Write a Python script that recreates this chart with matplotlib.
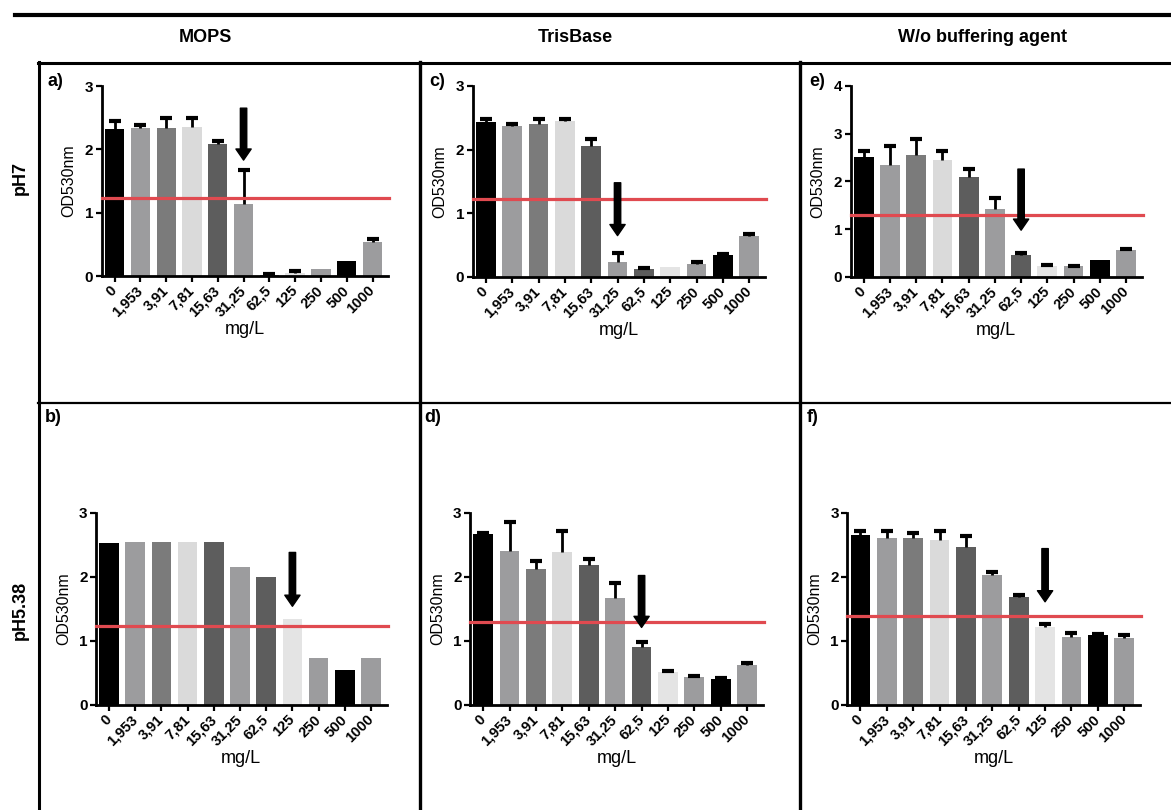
import matplotlib
matplotlib.use('Agg')
import matplotlib.pyplot as plt
from matplotlib.lines import Line2D
import numpy as np

plt.rcParams['font.family'] = ['Liberation Sans', 'DejaVu Sans']

W, H = 1171, 810

conc = ['0', '1,953', '3,91', '7,81', '15,63', '31,25', '62,5', '125', '250', '500', '1000']
bar_colors = ['#000000', '#9c9c9e', '#7b7b7b', '#dadada', '#5d5d5d', '#9c9c9e',
              '#5d5d5d', '#e4e4e4', '#9c9c9e', '#000000', '#9c9c9e']

# OD530nm means and upper SD, pH 7
mops_ph7 = [2.32, 2.33, 2.34, 2.35, 2.08, 1.13, 0.02, 0.04, 0.11, 0.24, 0.53]
mops_ph7_err = [0.13, 0.05, 0.15, 0.14, 0.05, 0.54, 0.01, 0.04, 0.0, 0.0, 0.05]
tris_ph7 = [2.44, 2.37, 2.41, 2.45, 2.05, 0.24, 0.12, 0.16, 0.21, 0.35, 0.64]
tris_ph7_err = [0.04, 0.03, 0.07, 0.03, 0.11, 0.14, 0.02, 0.0, 0.03, 0.01, 0.04]
nobuf_ph7 = [2.52, 2.35, 2.56, 2.44, 2.10, 1.42, 0.46, 0.23, 0.22, 0.36, 0.57]
nobuf_ph7_err = [0.12, 0.40, 0.32, 0.19, 0.16, 0.24, 0.04, 0.03, 0.02, 0.0, 0.02]

# pH 5.38
mops_ph538 = [2.52, 2.55, 2.54, 2.54, 2.55, 2.16, 1.99, 1.34, 0.74, 0.54, 0.74]
mops_ph538_err = [0.0] * 11
tris_ph538 = [2.67, 2.41, 2.12, 2.39, 2.18, 1.67, 0.90, 0.51, 0.44, 0.41, 0.62]
tris_ph538_err = [0.02, 0.45, 0.13, 0.33, 0.09, 0.23, 0.08, 0.02, 0.02, 0.01, 0.03]
nobuf_ph538 = [2.65, 2.61, 2.61, 2.58, 2.47, 2.03, 1.69, 1.22, 1.06, 1.09, 1.05]
nobuf_ph538_err = [0.06, 0.10, 0.08, 0.14, 0.16, 0.05, 0.03, 0.05, 0.07, 0.01, 0.04]

# threshold line and arrow (bar index, arrow top, arrow tip) per panel
cutoffs = {'a': 1.23, 'c': 1.23, 'e': 1.29, 'b': 1.24, 'd': 1.29, 'f': 1.39}
arrows = {'a': (5, 2.65, 1.83), 'c': (5, 1.48, 0.65), 'e': (6, 2.26, 0.98),
          'b': (7, 2.38, 1.54), 'd': (6, 2.02, 1.21), 'f': (7, 2.44, 1.61)}


def px_rect(x0, x1, y_top, y_bot):
    return [x0 / W, 1 - y_bot / H, (x1 - x0) / W, (y_bot - y_top) / H]


fig = plt.figure(figsize=(W / 100, H / 100), dpi=100)

panels = [
    ('a', mops_ph7, mops_ph7_err, px_rect(101.7, 388, 86, 276), 3, (55, 82)),
    ('c', tris_ph7, tris_ph7_err, px_rect(472.7, 765, 86, 277), 3, (437, 82)),
    ('e', nobuf_ph7, nobuf_ph7_err, px_rect(850.7, 1141.7, 86, 277), 4, (817, 82)),
    ('b', mops_ph538, mops_ph538_err, px_rect(96, 386.7, 512.7, 705), 3, (53, 418)),
    ('d', tris_ph538, tris_ph538_err, px_rect(470, 763, 512.7, 705), 3, (433, 418)),
    ('f', nobuf_ph538, nobuf_ph538_err, px_rect(847.3, 1140, 512.7, 705), 3, (813, 418)),
]

x = np.arange(len(conc))
for key, vals, errs, rect, ymax, lab_xy in panels:
    ax = fig.add_axes(rect)
    ax.bar(x, vals, width=0.75, color=bar_colors, zorder=2)
    vals = np.array(vals)
    errs = np.array(errs)
    has = errs > 0
    # upper error bars only: stem plus a cap
    if has.any():
        ax.vlines(x[has], vals[has], vals[has] + errs[has], color='black',
                  lw=2, zorder=3)
        ax.plot(x[has], vals[has] + errs[has], ls='none', marker='_',
                markersize=8, mew=3, color='black', zorder=3)
    ax.plot([-0.5, 10.65], [cutoffs[key]] * 2, color='#e04a50', lw=2.3,
            zorder=4, clip_on=False)
    idx, top, tip = arrows[key]
    ax.annotate('', xy=(idx, tip), xytext=(idx, top),
                arrowprops=dict(facecolor='black', edgecolor='black', width=4.6,
                                headwidth=11, headlength=8, shrink=0), zorder=5)
    ax.set_xlim(-0.5, 10.6)
    ax.set_ylim(0, ymax)
    ax.set_yticks(range(ymax + 1))
    ax.set_xticks(x)
    ax.set_xticklabels(conc, rotation=45, ha='right', va='center',
                       rotation_mode='anchor', fontweight='bold', fontsize=10.5)
    for t in ax.get_yticklabels():
        t.set_fontweight('bold')
        t.set_fontsize(11)
    ax.tick_params(axis='both', direction='out', length=4, width=1.6, pad=2)
    ax.tick_params(axis='x', pad=5)
    for s in ['top', 'right']:
        ax.spines[s].set_visible(False)
    for s in ['left', 'bottom']:
        ax.spines[s].set_linewidth(2)
    ax.set_ylabel('OD530nm', fontsize=11.5, labelpad=6)
    ax.set_xlabel('mg/L', fontsize=13, labelpad=1)
    fig.text(lab_xy[0] / W, 1 - lab_xy[1] / H, key + ')', fontsize=13,
             fontweight='bold', ha='center', va='center')


def hline(y, x0, x1, lw):
    fig.add_artist(Line2D([x0 / W, x1 / W], [1 - y / H, 1 - y / H],
                          color='black', lw=lw, transform=fig.transFigure))


def vline(x_, y0, y1, lw):
    fig.add_artist(Line2D([x_ / W, x_ / W], [1 - y0 / H, 1 - y1 / H],
                          color='black', lw=lw, transform=fig.transFigure))


# table frame
hline(15, 15, W, 3)
hline(63, 38, W, 2.2)
hline(403, 38, W, 1.6)
vline(39, 62, H, 2.2)
vline(420, 62, H, 2.4)
vline(800, 62, H, 2.4)

for label, xc in [('MOPS', 205), ('TrisBase', 575), ('W/o buffering agent', 983)]:
    fig.text(xc / W, 1 - 37 / H, label, fontsize=13, fontweight='bold',
             ha='center', va='center')

fig.text(20 / W, 1 - 178 / H, 'pH7', fontsize=13, fontweight='bold',
         rotation=90, ha='center', va='center')
fig.text(20 / W, 1 - 610 / H, 'pH5.38', fontsize=13, fontweight='bold',
         rotation=90, ha='center', va='center')

fig.savefig('out.png', dpi=100)
